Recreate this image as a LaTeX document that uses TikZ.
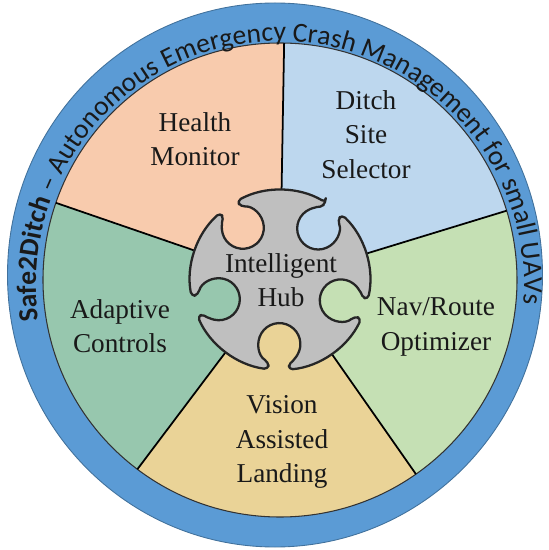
\documentclass[tikz,border=0pt]{standalone}
\usepackage{fontspec}
\setmainfont{Liberation Serif}
\newfontfamily\ringfont{Carlito}
\newfontfamily\labelfont{Liberation Serif}
\usetikzlibrary{decorations.text}

\definecolor{ringblue}{HTML}{5B9BD5}
\definecolor{ringline}{HTML}{41719C}
\definecolor{healthc}{HTML}{F8CBAD}
\definecolor{ditchc}{HTML}{BDD7EE}
\definecolor{navc}{HTML}{C5E0B4}
\definecolor{visionc}{HTML}{EAD397}
\definecolor{adaptc}{HTML}{97C7AE}
\definecolor{hubc}{HTML}{BFBFBF}

\begin{document}
\begin{tikzpicture}[
    sectorlabel/.style={align=center, font=\labelfont\fontsize{15.5}{19.5}\selectfont, text=black!90},
    divider/.style={black, line width=1pt}]

    \useasboundingbox (-5.6,-5.4) rectangle (5.36,5.6);

    %ring
    \fill[ringblue] (-0.1,0.1) ellipse (5.35 and 5.44);
    \draw[ringline, line width=0.5pt] (-0.1,0.1) ellipse (5.35 and 5.44);

    %sectors
    \foreach \a/\c in {17/ditchc, 89/healthc, 161/adaptc, 233/visionc, 305/navc}
        \fill[\c] (0,0) -- (\a:4.74) arc[start angle=\a, end angle=\a+72, radius=4.74] -- cycle;
    \draw[black!80, line width=0.6pt] (0,0) circle (4.74);
    \foreach \a in {17,89,161,233,305}
        \draw[divider] (\a:1.6) -- (\a:4.74);

    %hub
    \filldraw[fill=hubc, draw=black!85, line width=1.3pt, line join=round, rounded corners=2.5pt]
        (59.38:1.8)
        \foreach \t in {125,197,269,341,413} {
            arc[start angle=\t-72+6.38, end angle=\t-6.38, radius=1.8]
            -- (\t-6.93:1.658)
            arc[start angle=\t-30, end angle=\t+30-360, radius=0.42]
            -- (\t+6.38:1.8)
        } -- cycle;

    %labels
    \node[sectorlabel] (health) at (-1.7,2.82) {Health\\Monitor};
    \node[sectorlabel] (ditch) at (1.72,2.91) {Ditch\\Site\\Selector};
    \node[sectorlabel] (adapt) at (-3.2,-0.92) {Adaptive\\Controls};
    \node[sectorlabel] (nav) at (3.12,-0.94) {Nav/Route\\Optimizer};
    \node[sectorlabel] (vision) at (0.04,-3.24) {Vision\\Assisted\\Landing};
    \node[sectorlabel] (hub) at (0.02,0) {Intelligent\\Hub};

    %ring text
    \path[decorate, decoration={text along path, text align=center, text color=black!90,
        text={|\ringfont\fontsize{15.7}{16}\selectfont\bfseries|Safe2Ditch|\ringfont\fontsize{15.7}{16}\selectfont\mdseries| – Autonomous Emergency Crash Management for small UAVs}}]
        (0,-0.1) ++(192:4.88) arc[start angle=192, end angle=-8, radius=4.88];
\end{tikzpicture}
\end{document}
